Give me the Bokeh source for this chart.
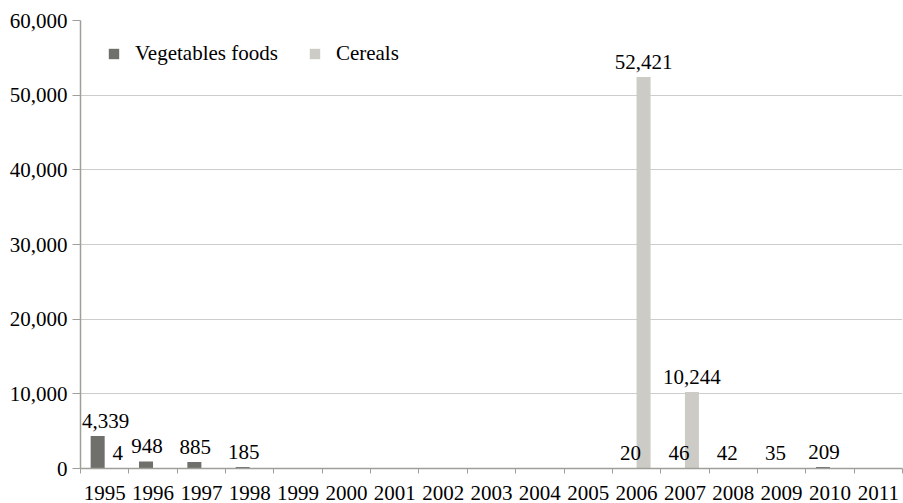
from bokeh.plotting import figure
from bokeh.models import (ColumnDataSource, Range1d, FixedTicker, NumeralTickFormatter,
                          Legend, LegendItem)
from bokeh.core.properties import value
from bokeh.embed import file_html
from bokeh.resources import INLINE

years = ["1995", "1996", "1997", "1998", "1999", "2000", "2001", "2002", "2003",
         "2004", "2005", "2006", "2007", "2008", "2009", "2010", "2011"]
vegetables = [4339, 948, 885, 185, None, None, None, None, None,
              None, None, 20, 46, 42, 35, 209, None]
cereals = [4, None, None, None, None, None, None, None, None,
           None, None, 52421, 10244, None, None, None, None]
y_ticks = [0, 10000, 20000, 30000, 40000, 50000, 60000]

FONT = "'Liberation Serif', 'Times New Roman', serif"
FS = "21px"
VEG_COLOR = "#6f706b"
CER_COLOR = "#cccbc6"
AXIS_COLOR = "#a09e9b"
GRID_COLOR = "#cdcdcd"

n = len(years)
centers = [i + 0.5 for i in range(n)]
bw = 0.29
off = 0.145

veg_x = [c - off for c in centers]
cer_x = [c + off for c in centers]
veg_top = [v if v is not None else float("nan") for v in vegetables]
cer_top = [v if v is not None else float("nan") for v in cereals]

W, H = 903, 503
BL, BR, BT, BB = 80, 1, 20, 35

p = figure(width=W, height=H, output_backend="svg", toolbar_location=None,
           x_range=Range1d(0, n), y_range=Range1d(0, 60000),
           min_border_left=BL, min_border_right=BR, min_border_top=BT,
           min_border_bottom=BB)
p.outline_line_color = None
p.background_fill_color = "white"
p.border_fill_color = "white"

veg_src = ColumnDataSource(dict(x=veg_x, top=veg_top))
cer_src = ColumnDataSource(dict(x=cer_x, top=cer_top))
r_veg = p.vbar(x="x", top="top", width=bw, bottom=0, source=veg_src,
               fill_color=VEG_COLOR, line_color=None)
r_cer = p.vbar(x="x", top="top", width=bw, bottom=0, source=cer_src,
               fill_color=CER_COLOR, line_color=None)

# value labels (the first two are nudged right, as in the original, so they
# stay clear of the axis and of each other)
lx, ly, lt, lo = [], [], [], []
for i in range(n):
    if vegetables[i] is not None:
        lx.append(veg_x[i]); ly.append(vegetables[i]); lt.append(f"{vegetables[i]:,}")
        lo.append(8 if i == 0 else 1)
    if cereals[i] is not None:
        lx.append(cer_x[i]); ly.append(cereals[i]); lt.append(f"{cereals[i]:,}")
        lo.append(6 if i == 0 else 0)
lab_src = ColumnDataSource(dict(x=lx, y=ly, text=lt, xo=lo))
p.text(x="x", y="y", text="text", x_offset="xo", source=lab_src,
       text_font=value(FONT), text_font_size=FS,
       text_color="#000000", text_align="center", text_baseline="bottom",
       y_offset=-8)

# y axis
p.yaxis.ticker = FixedTicker(ticks=y_ticks)
p.yaxis.formatter = NumeralTickFormatter(format="0,0")
p.yaxis.major_label_text_font = FONT
p.yaxis.major_label_text_font_size = FS
p.yaxis.major_label_text_color = "#000000"
p.yaxis.axis_line_color = AXIS_COLOR
p.yaxis.axis_line_width = 1.5
p.yaxis.major_tick_line_color = AXIS_COLOR
p.yaxis.major_tick_out = 8
p.yaxis.major_tick_in = 0
p.yaxis.minor_tick_line_color = None
p.yaxis.major_label_standoff = 5

# x axis
p.xaxis.ticker = FixedTicker(ticks=centers, minor_ticks=list(range(n + 1)))
p.xaxis.major_label_overrides = {c: y for c, y in zip(centers, years)}
p.xaxis.major_label_text_font = FONT
p.xaxis.major_label_text_font_size = FS
p.xaxis.major_label_text_color = "#000000"
p.xaxis.axis_line_color = AXIS_COLOR
p.xaxis.axis_line_width = 1.5
p.xaxis.major_tick_line_color = None
p.xaxis.major_tick_out = 0
p.xaxis.major_tick_in = 0
p.xaxis.minor_tick_line_color = AXIS_COLOR
p.xaxis.minor_tick_out = 5
p.xaxis.minor_tick_in = 0
p.xaxis.major_label_standoff = 12

p.xgrid.grid_line_color = None
p.ygrid.ticker = FixedTicker(ticks=y_ticks)
p.ygrid.grid_line_color = GRID_COLOR
p.ygrid.grid_line_width = 1

frame_h = H - BT - BB
legend = Legend(items=[LegendItem(label="Vegetables foods", renderers=[r_veg]),
                       LegendItem(label="Cereals", renderers=[r_cer])],
                location=(27, frame_h - 22 - 24), orientation="horizontal",
                margin=0, padding=0, spacing=30, label_standoff=15,
                glyph_width=13, glyph_height=13, label_height=13,
                label_text_font=FONT, label_text_font_size=FS,
                label_text_color="#000000",
                border_line_color=None, background_fill_alpha=0)
p.add_layout(legend)

open("out.html", "w").write(file_html(p, INLINE))
